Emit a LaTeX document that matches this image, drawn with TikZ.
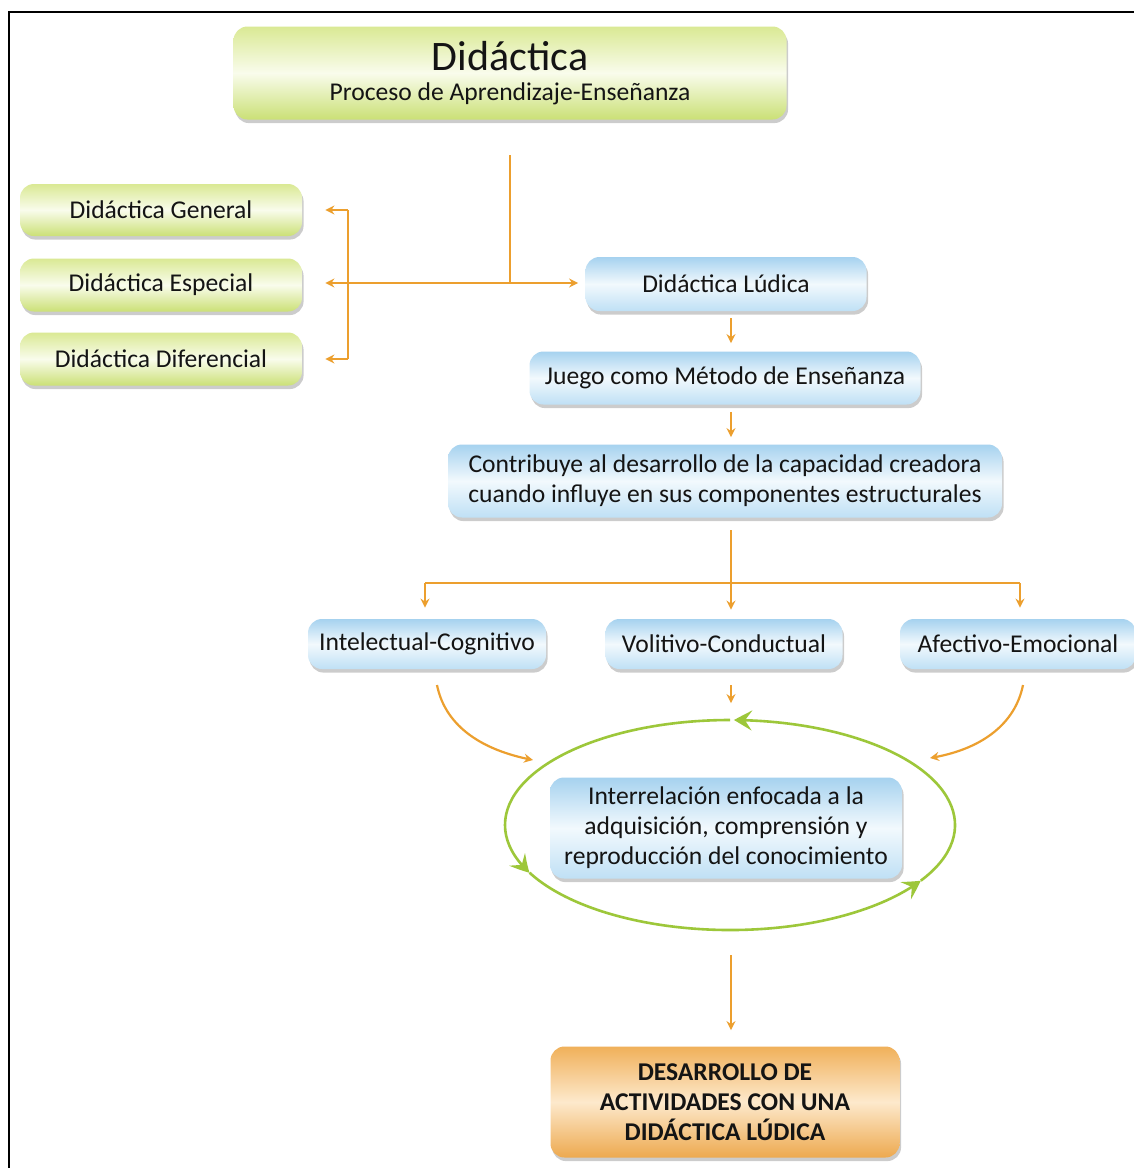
\documentclass[tikz,border=0pt]{standalone}
\usepackage{fontspec}
\setmainfont{Carlito}
\usetikzlibrary{arrows.meta,bending,shadows,calc}

\definecolor{arr}{HTML}{EC9F2E}
\definecolor{ellc}{HTML}{9DC73A}
\definecolor{txt}{HTML}{141414}
\definecolor{gtop}{HTML}{DAE994}
\definecolor{gmid}{HTML}{F9FCEC}
\definecolor{gbot}{HTML}{CBE076}
\definecolor{btop}{HTML}{A6D2EF}
\definecolor{bmid}{HTML}{F2F9FD}
\definecolor{bbot}{HTML}{BFE0F5}
\definecolor{otop}{HTML}{F0B05A}
\definecolor{omid}{HTML}{FDE9CC}
\definecolor{obot}{HTML}{EDA94F}

\tikzset{
  box/.style={rounded corners=7pt, align=center, inner sep=2pt, text=txt,
    font=\fontsize{12.8}{15}\selectfont,
    drop shadow={shadow xshift=0.8pt, shadow yshift=-1.8pt, opacity=0.2, fill=black}},
  gbox/.style={box, top color=gtop, bottom color=gbot, middle color=gmid},
  bbox/.style={box, top color=btop, bottom color=bbot, middle color=bmid},
  obox/.style={box, top color=otop, bottom color=obot, middle color=omid},
  con/.style={draw=arr, line width=1.1pt},
  arw/.style={con, -{Stealth[length=4.5pt, width=4.5pt, inset=1.5pt]}},
  earc/.style={draw=ellc, line width=1.3pt, -{Stealth[length=9pt, width=10pt, inset=3.5pt, bend]}},
}

\begin{document}
\begin{tikzpicture}[x=0.5pt, y=-0.5pt]
\useasboundingbox (0,0) rectangle (1134,1168);
\fill[white] (0,0) rectangle (1134,1168);
\draw[line width=1pt] (9,1172) |- (1140,12);

% nodes
\node[gbox, minimum width=276.5pt, minimum height=46.5pt] (tit) at (510,73)
  {{\fontsize{21}{22}\selectfont Didáctica}\\[0pt]{\fontsize{12.8}{14}\selectfont Proceso de Aprendizaje-Enseñanza}};
\node[gbox, minimum width=141pt, minimum height=26pt] (gen) at (161,210) {Didáctica General};
\node[gbox, minimum width=141pt, minimum height=26.5pt] (esp) at (161,285) {Didáctica Especial};
\node[gbox, minimum width=141pt, minimum height=26.5pt] (dif) at (161,359) {Didáctica Diferencial};
\node[bbox, minimum width=140.5pt, minimum height=27pt] (lud) at (726,284) {Didáctica Lúdica};
\node[bbox, minimum width=195.5pt, minimum height=26.5pt] (jue) at (725,378) {Juego como Método de Enseñanza};
\node[bbox, minimum width=277pt, minimum height=36.5pt] (con) at (725,481)
  {Contribuye al desarrollo de la capacidad creadora\\cuando influye en sus componentes estructurales};
\node[bbox, minimum width=119pt, minimum height=25pt] (int) at (427,644) {Intelectual-Cognitivo};
\node[bbox, minimum width=118.5pt, minimum height=25pt] (vol) at (724,644) {Volitivo-Conductual};
\node[bbox, minimum width=118pt, minimum height=25pt] (afe) at (1018,644) {Afectivo-Emocional};
\node[bbox, minimum width=176pt, minimum height=50.5pt] (irl) at (726,828)
  {Interrelación enfocada a la\\adquisición, comprensión y\\reproducción del conocimiento};
\node[obox, minimum width=174.5pt, minimum height=55.5pt, font=\bfseries\fontsize{12.8}{15}\selectfont] (des) at (725,1102)
  {DESARROLLO DE\\ACTIVIDADES CON UNA\\DIDÁCTICA LÚDICA};

% coordinates
\coordinate (colx) at (731,0);
\coordinate (t1) at (510,155);
\coordinate (J) at (510,283);
\coordinate (brT) at (348,210);
\coordinate (brB) at (348,359);
\coordinate (c1) at (731,530);
\coordinate (hl) at (425,583);
\coordinate (hr) at (1020,583);
\coordinate (C) at (730,825);
\coordinate (e1) at (731,955);

% top connectors
\draw[con] (t1) -- (J);
\draw[arw, shorten >=3.5pt] (J) -- (lud.west |- J);
\draw[arw, shorten >=11.5pt] (J) -- (esp.east |- J);
\draw[con] (brT) -- (brB);
\draw[arw, shorten >=11.5pt] (brT) -- (gen.east |- brT);
\draw[arw, shorten >=11.5pt] (brB) -- (dif.east |- brB);

% central column
\draw[arw, shorten <=3.5pt, shorten >=4pt] (lud.south -| colx) -- (jue.north -| colx);
\draw[arw, shorten <=3.5pt, shorten >=3.5pt] (jue.south -| colx) -- (con.north -| colx);
\draw[arw, shorten >=4.5pt] (c1) -- (vol.north -| colx);
\draw[con] (hl) -- (hr);
\draw[arw, shorten >=5.5pt] (hl) -- (int.north -| hl);
\draw[arw, shorten >=5.5pt] (hr) -- (afe.north -| hr);

% to the cycle
\draw[arw, shorten <=8pt, shorten >=37pt] (vol.south -| colx) -- (irl.north -| colx);
\coordinate (li) at (437,685);
\coordinate (lt) at (533,760);
\coordinate (ri) at (1023,685);
\coordinate (rt) at (930,758);
\draw[arw] (li) .. controls (445,725) and (480,750) .. (lt);
\draw[arw] (ri) .. controls (1015,725) and (980,750) .. (rt);

% cycle
\draw[earc] ([shift={(90:112.5pt and 52.5pt)}]C) arc[start angle=90, end angle=207, x radius=112.5pt, y radius=52.5pt];
\draw[earc] ([shift={(207:112.5pt and 52.5pt)}]C) arc[start angle=207, end angle=328, x radius=112.5pt, y radius=52.5pt];
\draw[earc] ([shift={(328:112.5pt and 52.5pt)}]C) arc[start angle=328, end angle=449, x radius=112.5pt, y radius=52.5pt];

% bottom
\draw[arw, shorten >=8pt] (e1) -- (des.north -| colx);
\end{tikzpicture}
\end{document}
